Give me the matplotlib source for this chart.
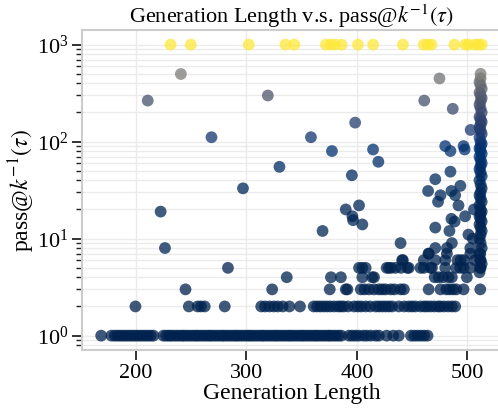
import matplotlib
matplotlib.use("Agg")
import matplotlib.pyplot as plt
import matplotlib.ticker as mticker
import numpy as np

# generation lengths of samples that never pass (capped at 1000)
fail_len = [231.5, 249.8, 302.3, 335.4, 343.5, 372, 376.6, 380.4, 386.4, 401,
            414.7, 441.7, 460.6, 464.5, 467.6, 488.3, 498.2, 501, 507, 510, 513]

# generation lengths of samples with pass@k^-1 == 1
len_1 = [168.7, 178, 181, 183.5, 186, 188.5, 191, 193.5, 196, 198.5, 201, 203.5,
         206, 208.5, 211, 213.5, 216, 225, 227.5, 230, 232, 234.5, 237, 239.5,
         242, 244, 246.5, 249, 251.5, 254, 256, 258.5, 261, 263.5, 266, 268,
         270.5, 273, 275.5, 278, 280, 282.5, 285, 287.5, 290, 292, 294.5, 297,
         299.5, 302, 304, 306.5, 309, 311.5, 314, 316, 318.5, 321, 323.5, 326,
         328, 330.5, 333, 335.5, 338, 340, 342.5, 345, 347.5, 350, 352, 354.5,
         357, 359.5, 362, 364, 366.5, 369, 371.5, 374, 376, 378.5, 381, 383.5,
         386, 393, 396, 399, 402, 406, 409, 412.6, 417, 420, 427, 433, 438,
         449, 452, 455, 458, 461, 464]

len_2 = [199.7, 248, 256, 259, 262.4, 280.5, 313.5, 317, 321, 325, 328.5, 333,
         339, 348.6, 361, 364, 367, 370, 373, 376, 379.5, 383, 385.5, 388, 392,
         397.5, 401, 404, 408, 412, 417, 420, 423, 426, 429, 432, 438, 443, 447,
         450, 453, 457.6, 461, 463.6, 466.7, 470, 473.5, 475.7, 479, 482.6, 486,
         489]

len_3 = [245, 323.4, 375.5, 390, 391.5, 403.6, 407, 411, 415.6, 420, 423, 426,
         430.6, 434, 439.6, 442.6, 465, 475.7, 481, 484, 487, 490, 496.6, 511.7]

len_4 = [336.6, 376.6, 385.6, 405, 414, 415.6, 470.5, 474, 478, 483, 486, 499.6]

len_5 = [283.4, 402, 405, 408, 427, 429, 431, 435, 440, 445.6, 447, 457.6,
         460.6, 466.7, 468, 480, 490, 493.6, 496.6, 502.7, 511.7]

len_6 = [441, 460.6, 471, 480, 491, 494, 497, 511.7]
len_7 = [465, 481.5, 502.7, 511.7]

# scattered samples (generation length, pass@k^-1)
other_len = [226.4, 222.5, 439.6, 369, 390, 402, 396, 396.6, 405, 395.5, 330,
             297, 377.5, 414.7, 419.5, 268.5, 358.5, 398.5, 210.8, 319.5, 240.8,
             474.8, 461, 486.8, 503, 480, 484.7, 497.6, 484.7, 471, 464.5, 493.7,
             475.7, 485.6, 489, 473.5, 492, 485.6, 488.5, 498, 471, 483.8, 501,
             486, 471, 481.6, 502.7, 465, 441.7, 496.6, 506, 505, 507]
other_val = [8, 19, 9, 12, 20, 22, 17, 15.5, 14, 45, 55,
             33, 80, 83, 62, 111, 111, 157, 265, 299, 498,
             448, 265, 218, 132, 90, 80, 83, 49, 41, 31, 35,
             28, 31, 28, 24, 22, 16, 15, 17, 13, 12, 11,
             9, 8, 8, 8, 7, 6, 90, 20, 10, 6]

# samples truncated at the maximum generation length
trunc_len = [511, 512, 513, 512, 511, 513, 512, 511, 512, 513, 512, 511, 513,
             512, 511, 512, 513, 512, 511, 513, 512, 511, 512, 513, 512, 511,
             513, 512, 511, 512, 513, 512, 511, 513, 512, 511, 512, 513, 512,
             511, 513, 512, 511, 512, 513, 512, 511, 513, 512, 511, 512, 513,
             512, 511, 513, 512, 511, 512, 512]
trunc_val = [4.5, 5, 5.5, 6, 7, 8, 9, 10, 11, 12, 13, 14, 15, 16, 17, 18, 19,
             20, 22, 24, 26, 28, 30, 33, 36, 40, 44, 48, 52, 56, 60, 65, 70, 75,
             80, 85, 90, 95, 100, 110, 120, 130, 140, 150, 160, 170, 180, 200,
             220, 240, 260, 280, 300, 320, 350, 380, 410, 450, 500]

x_ticks = [200, 300, 400, 500]

# assemble the points
gen_len = []
pass_k = []
for xs, v in [(len_1, 1), (len_2, 2), (len_3, 3), (len_4, 4), (len_5, 5),
              (len_6, 6), (len_7, 7), (fail_len, 1000)]:
    gen_len += list(xs)
    pass_k += [v] * len(xs)
gen_len += other_len + trunc_len
pass_k += other_val + trunc_val
gen_len = np.array(gen_len)
pass_k = np.array(pass_k, dtype=float)

# plotting setup
plt.rcParams["font.family"] = ["Liberation Serif", "DejaVu Serif"]
plt.rcParams["mathtext.fontset"] = "stix"

fig, ax = plt.subplots(figsize=(4.98, 4.12), dpi=100)
fig.subplots_adjust(left=0.165, right=1.005, bottom=0.150, top=0.927)

order = np.argsort(pass_k)
ax.scatter(gen_len[order], pass_k[order], c=pass_k[order], cmap="cividis",
           vmin=0, vmax=1000, s=72, alpha=0.75, linewidths=0, zorder=3)

ax.set_yscale("log")
ax.set_xlim(151.5, 530)
ax.set_ylim(10 ** -0.15, 10 ** 3.15)
ax.set_xticks(x_ticks)
ax.yaxis.set_minor_locator(mticker.LogLocator(base=10, subs=np.arange(2, 10)))
ax.yaxis.set_minor_formatter(mticker.NullFormatter())

# grid and frame
ax.grid(True, which="major", color="#ebebeb", linewidth=1.0, zorder=0)
ax.grid(True, which="minor", axis="y", color="#ebebeb", linewidth=1.0, zorder=0)
ax.set_axisbelow(True)
for spine in ax.spines.values():
    spine.set_color("#cccccc")
    spine.set_linewidth(1.5)

ax.tick_params("both", which="major", direction="out", length=7, width=1.3,
               color="#222222", labelsize=16, pad=3)
ax.tick_params("y", which="minor", direction="out", length=4, width=1.0,
               color="#222222")
ax.tick_params("x", which="minor", length=0)

ax.set_title(r"Generation Length v.s. pass@$k^{-1}(\tau)$", fontsize=16,
             pad=3)
ax.set_xlabel("Generation Length", fontsize=17, labelpad=0)
ax.set_ylabel(r"pass@$k^{-1}(\tau)$", fontsize=17, labelpad=0)

fig.savefig("out.png", dpi=100)
